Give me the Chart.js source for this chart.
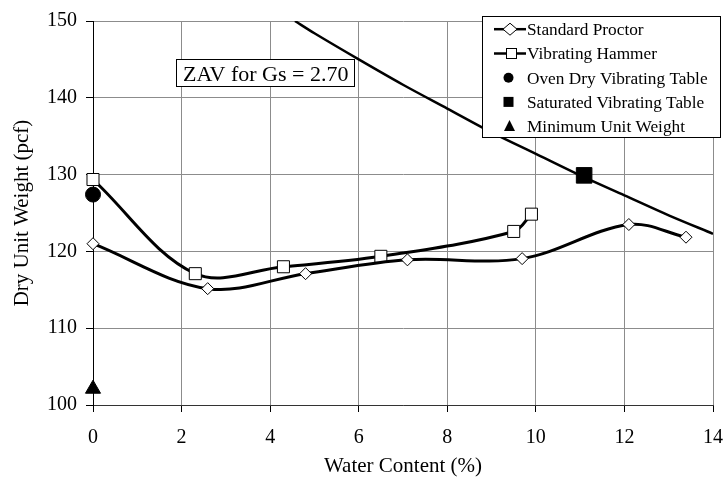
<!DOCTYPE html>
<html>
<head>
<meta charset="utf-8">
<script src="https://cdn.jsdelivr.net/npm/chart.js@4"></script>
<style>
  body { margin: 0; background: #fff; }
  #wrap { width: 725px; height: 479px; }
</style>
</head>
<body>
<div id="wrap"><canvas id="chart" width="725" height="479"></canvas></div>
<script>
// values (water content in %, dry unit weight in pcf)
const proctorWater = [0, 2.59, 4.8, 7.1, 9.69, 12.1, 13.39];
const proctorWeight = [121.0, 115.15, 117.1, 118.9, 119.06, 123.5, 121.85];

const hammerWater = [0, 2.31, 4.3, 6.5, 9.5, 9.9];
const hammerWeight = [129.36, 117.1, 118.0, 119.36, 122.6, 124.85];

const ovenDryWater = [0];
const ovenDryWeight = [127.4];

const saturatedWater = [11.09];
const saturatedWeight = [129.9];

const minimumWater = [0];
const minimumWeight = [102.1];

// zero air voids curve, Gs = 2.70
const zavWater = [4.56, 5, 6, 7, 8, 9, 10, 11, 12, 13, 14];
const zavWeight = [150.0, 148.4, 145.0, 141.7, 138.6, 135.5, 132.7, 129.9, 127.3, 124.7, 122.3];

const xTicks = [0, 2, 4, 6, 8, 10, 12, 14];
const yTicks = [100, 110, 120, 130, 140, 150];

const legendNames = [
    'Standard Proctor',
    'Vibrating Hammer',
    'Oven Dry Vibrating Table',
    'Saturated Vibrating Table',
    'Minimum Unit Weight'
];
const zavLabel = 'ZAV for Gs = 2.70';

const serif = "'Liberation Serif', 'Times New Roman', serif";

const toPoints = (xs, ys) => xs.map((x, i) => ({ x: x, y: ys[i] }));

// legend box and ZAV label are drawn inside the plot, like the Excel original
const overlayPlugin = {
    id: 'overlay',
    afterDraw(chart) {
        const ctx = chart.ctx;
        ctx.save();

        // ZAV label
        ctx.fillStyle = '#fff';
        ctx.strokeStyle = '#000';
        ctx.lineWidth = 1;
        ctx.fillRect(176.5, 59.5, 178, 27);
        ctx.strokeRect(176.5, 59.5, 178, 27);
        ctx.fillStyle = '#000';
        ctx.font = '22px ' + serif;
        ctx.textBaseline = 'alphabetic';
        ctx.textAlign = 'left';
        ctx.fillText(zavLabel, 183, 81);

        // legend
        ctx.fillStyle = '#fff';
        ctx.fillRect(482.5, 16.5, 238, 121);
        ctx.strokeRect(482.5, 16.5, 238, 121);

        const baselines = [35, 59.3, 83.5, 107.7, 131.8];
        ctx.font = '17.3px ' + serif;
        ctx.fillStyle = '#000';
        legendNames.forEach((name, i) => {
            ctx.fillText(name, 527, baselines[i]);
        });

        const mid = baselines.map(b => b - 5.8);

        // line samples
        ctx.lineWidth = 2.5;
        [mid[0], mid[1]].forEach(y => {
            ctx.beginPath();
            ctx.moveTo(494, y);
            ctx.lineTo(526, y);
            ctx.stroke();
        });

        ctx.lineWidth = 1;
        // diamond
        ctx.fillStyle = '#fff';
        ctx.beginPath();
        ctx.moveTo(503, mid[0]);
        ctx.lineTo(510, mid[0] - 6);
        ctx.lineTo(517, mid[0]);
        ctx.lineTo(510, mid[0] + 6);
        ctx.closePath();
        ctx.fill();
        ctx.stroke();
        // open square
        ctx.fillRect(506.5, mid[1] - 5, 10, 10);
        ctx.strokeRect(506.5, mid[1] - 5, 10, 10);

        ctx.fillStyle = '#000';
        // circle
        ctx.beginPath();
        ctx.arc(508.5, mid[2], 5, 0, Math.PI * 2);
        ctx.fill();
        // filled square
        ctx.fillRect(503.5, mid[3] - 5, 10, 10);
        // triangle
        ctx.beginPath();
        ctx.moveTo(509.5, mid[4] - 6);
        ctx.lineTo(515, mid[4] + 5);
        ctx.lineTo(504, mid[4] + 5);
        ctx.closePath();
        ctx.fill();

        ctx.restore();
    }
};

const ctx = document.getElementById('chart').getContext('2d');

new Chart(ctx, {
    type: 'scatter',
    data: {
        datasets: [
            {
                label: legendNames[0],
                data: toPoints(proctorWater, proctorWeight),
                showLine: true,
                borderColor: '#000',
                borderWidth: 3,
                tension: 0.35,
                pointStyle: 'rectRot',
                pointRadius: 6,
                pointBackgroundColor: '#fff',
                pointBorderColor: '#000',
                pointBorderWidth: 1,
                clip: false
            },
            {
                label: legendNames[1],
                data: toPoints(hammerWater, hammerWeight),
                showLine: true,
                borderColor: '#000',
                borderWidth: 3,
                tension: 0.35,
                pointStyle: 'rect',
                pointRadius: 8.5,
                pointBackgroundColor: '#fff',
                pointBorderColor: '#000',
                pointBorderWidth: 1,
                clip: false
            },
            {
                label: legendNames[2],
                data: toPoints(ovenDryWater, ovenDryWeight),
                pointStyle: 'circle',
                pointRadius: 7.5,
                pointBackgroundColor: '#000',
                pointBorderColor: '#000',
                clip: false
            },
            {
                label: legendNames[3],
                data: toPoints(saturatedWater, saturatedWeight),
                pointStyle: 'rect',
                pointRadius: 11,
                pointBackgroundColor: '#000',
                pointBorderColor: '#000',
                clip: false
            },
            {
                label: legendNames[4],
                data: toPoints(minimumWater, minimumWeight),
                pointStyle: 'triangle',
                pointRadius: 8.7,
                pointBackgroundColor: '#000',
                pointBorderColor: '#000',
                clip: false
            },
            {
                label: 'ZAV',
                data: toPoints(zavWater, zavWeight),
                showLine: true,
                borderColor: '#000',
                borderWidth: 2.5,
                tension: 0.3,
                pointRadius: 0
            }
        ]
    },
    options: {
        responsive: false,
        animation: false,
        events: [],
        layout: { padding: { top: 17, right: 9, left: 0, bottom: 0 } },
        plugins: {
            legend: { display: false },
            tooltip: { enabled: false }
        },
        scales: {
            x: {
                type: 'linear',
                min: 0,
                max: 14,
                afterBuildTicks: (scale) => { scale.ticks = xTicks.map(v => ({ value: v })); },
                afterFit: (scale) => {
                    scale.height = 74;
                    scale.paddingLeft = 0;
                    scale.paddingRight = 0;
                },
                grid: { color: '#8c8c8c', lineWidth: 1, tickLength: 7, tickColor: '#000' },
                border: { color: '#333', width: 1 },
                ticks: {
                    padding: 14,
                    color: '#000',
                    font: { family: serif, size: 20 }
                },
                title: {
                    display: true,
                    text: 'Water Content (%)',
                    color: '#000',
                    font: { family: serif, size: 21 },
                    padding: { top: 0, bottom: 0 }
                }
            },
            y: {
                type: 'linear',
                min: 100,
                max: 150,
                afterBuildTicks: (scale) => { scale.ticks = yTicks.map(v => ({ value: v })); },
                afterFit: (scale) => { scale.width = 93; },
                grid: { color: '#8c8c8c', lineWidth: 1, tickLength: 7, tickColor: '#000' },
                border: { color: '#000', width: 1 },
                ticks: {
                    padding: 9,
                    color: '#000',
                    font: { family: serif, size: 20 }
                },
                title: {
                    display: true,
                    text: 'Dry Unit Weight (pcf)',
                    color: '#000',
                    font: { family: serif, size: 21 },
                    padding: { top: 10, bottom: 0 }
                }
            }
        }
    },
    plugins: [overlayPlugin]
});
</script>
</body>
</html>
